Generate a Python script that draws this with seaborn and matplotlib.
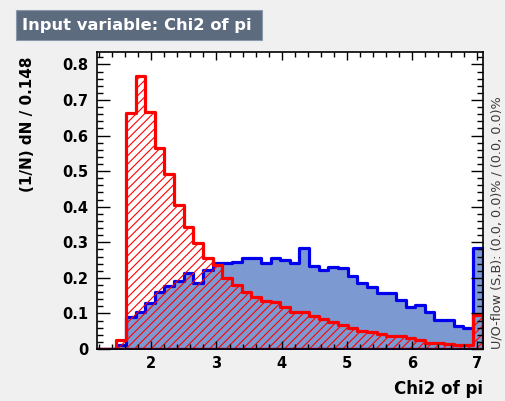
import numpy as np
import pandas as pd
import matplotlib
matplotlib.use("Agg")
import matplotlib.pyplot as plt
from matplotlib.patches import Rectangle
from matplotlib.ticker import MultipleLocator, FixedLocator, FuncFormatter
import seaborn as sns

# ---------------- data ----------------
x_min = 1.166
bin_width = 0.148
n_bins = 40

signal = [0.0, 0.0, 0.01, 0.09, 0.105, 0.128, 0.16, 0.178, 0.19, 0.215,
          0.185, 0.222, 0.243, 0.241, 0.245, 0.257, 0.255, 0.241, 0.257, 0.25,
          0.243, 0.283, 0.232, 0.223, 0.231, 0.228, 0.205, 0.185, 0.175, 0.157,
          0.157, 0.138, 0.119, 0.124, 0.105, 0.082, 0.082, 0.065, 0.058, 0.283]

background = [0.0, 0.0, 0.025, 0.663, 0.767, 0.667, 0.564, 0.492, 0.405, 0.344,
              0.297, 0.257, 0.235, 0.20, 0.18, 0.16, 0.147, 0.135, 0.133, 0.117,
              0.105, 0.105, 0.093, 0.083, 0.077, 0.068, 0.060, 0.050, 0.048, 0.042,
              0.037, 0.036, 0.030, 0.025, 0.017, 0.016, 0.015, 0.011, 0.011, 0.096]

x_ticks = [2, 3, 4, 5, 6, 7]
y_ticks = [0, 0.1, 0.2, 0.3, 0.4, 0.5, 0.6, 0.7, 0.8]

title = "Input variable: Chi2 of pi"
x_label = "Chi2 of pi"
y_label = "(1/N) dN / 0.148"
flow_text = "U/O-flow (S,B): (0.0, 0.0)% / (0.0, 0.0)%"

# ---------------- figure ----------------
W, H = 505, 401
fig = plt.figure(figsize=(W / 100, H / 100), dpi=100, facecolor="#f0f0f0")
FONT = "DejaVu Sans"

L, R, T, B = 97, 482.7, 52, 349
ax = fig.add_axes([L / W, 1 - B / H, (R - L) / W, (B - T) / H])
ax.set_facecolor("white")

edges = [x_min + bin_width * i for i in range(n_bins + 1)]
centers = [(edges[i] + edges[i + 1]) / 2 for i in range(n_bins)]
df = pd.DataFrame({"x": centers, "sig": signal, "bkg": background})

plt.rcParams["hatch.linewidth"] = 0.8

sns.histplot(data=df, x="x", weights="sig", binwidth=bin_width,
             binrange=(edges[0], edges[-1]), element="step",
             fill=True, color="#0000ee", facecolor="#7d99d1", edgecolor="#0000ee",
             linewidth=2.3, ax=ax)
sns.histplot(data=df, x="x", weights="bkg", binwidth=bin_width,
             binrange=(edges[0], edges[-1]), element="step",
             fill=True, color="#ff0000", facecolor="none", edgecolor="#ff0000",
             hatch="////", linewidth=2.3, ax=ax)

ax.set_xlim(edges[0], edges[-1])
ax.set_ylim(0, 0.835)

ax.xaxis.set_major_locator(FixedLocator(x_ticks))
ax.xaxis.set_minor_locator(MultipleLocator(0.2))
ax.yaxis.set_major_locator(FixedLocator(y_ticks))
ax.yaxis.set_minor_locator(MultipleLocator(0.02))
ax.yaxis.set_major_formatter(FuncFormatter(lambda v, p: "0" if abs(v) < 1e-9 else f"{v:.1f}"))
ax.xaxis.set_major_formatter(FuncFormatter(lambda v, p: f"{v:.0f}"))

ax.tick_params(axis="both", which="both", direction="in", top=True, right=True,
               width=1.0, color="black")
ax.tick_params(axis="y", which="major", length=9, pad=6)
ax.tick_params(axis="y", which="minor", length=4.5)
ax.tick_params(axis="x", which="major", length=6, pad=5)
ax.tick_params(axis="x", which="minor", length=3.5)
for lab in ax.get_xticklabels() + ax.get_yticklabels():
    lab.set_fontfamily(FONT)
    lab.set_fontweight("bold")
    lab.set_fontsize(10.5)

for s in ax.spines.values():
    s.set_linewidth(1.2)
    s.set_color("black")

ax.set_xlabel("")
ax.set_ylabel("")

# title box
fig.patches.append(Rectangle((16 / W, 1 - 40 / H), (262 - 16) / W, 30 / H,
                             transform=fig.transFigure, facecolor="#5d6b7f",
                             edgecolor="#8a98ab", linewidth=0.8))
fig.text(22 / W, 1 - 25.5 / H, title, color="white", fontsize=11.8,
         fontweight="bold", family=FONT, ha="left", va="center")

# axis labels
fig.text(483 / W, 1 - 389 / H, x_label, fontsize=12, fontweight="bold",
         family=FONT, ha="right", va="center")
fig.text(27 / W, 1 - 57 / H, y_label, fontsize=11, fontweight="bold",
         family=FONT, ha="center", va="top", rotation=90)

# under/overflow text
fig.text(497 / W, 1 - 349 / H, flow_text, fontsize=9.2, color="#3a3a3a",
         family=FONT, ha="center", va="bottom", rotation=90)

fig.savefig("out.png", dpi=100, facecolor=fig.get_facecolor())
